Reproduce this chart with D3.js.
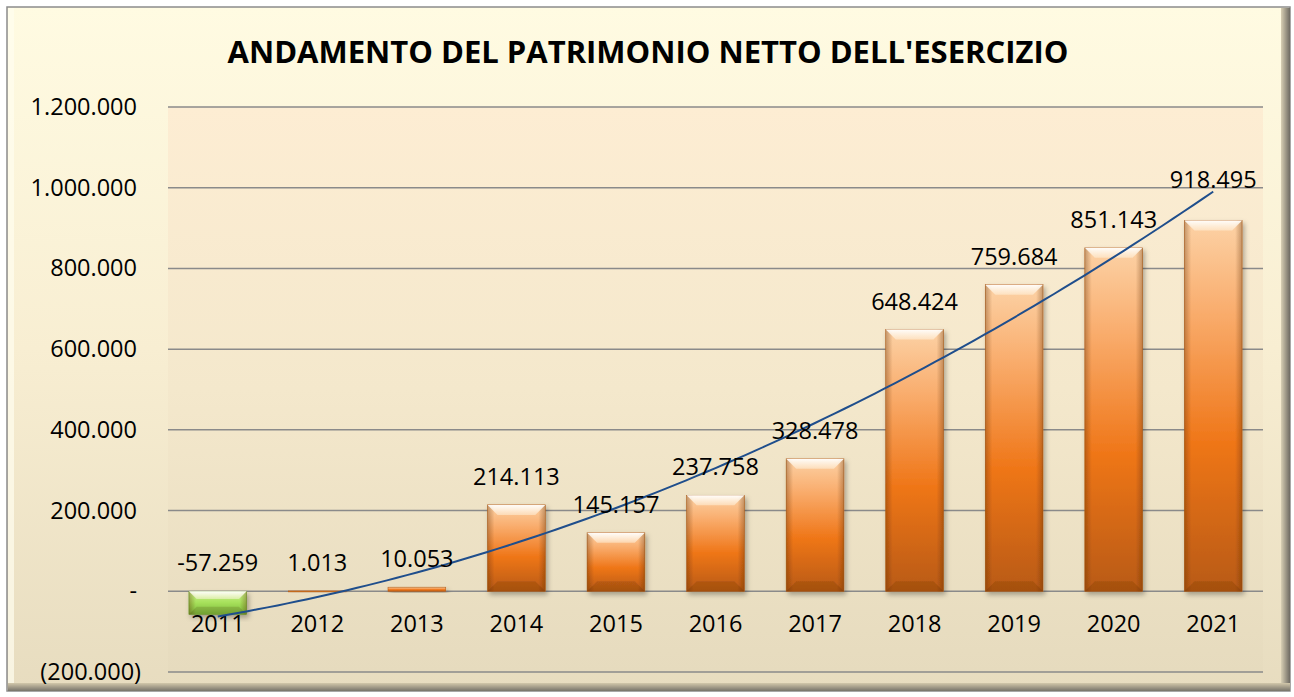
<!DOCTYPE html>
<html>
<head>
<meta charset="utf-8">
<script src="https://cdn.jsdelivr.net/npm/d3@7"></script>
<style>
  body { margin: 0; background: #fff; }
  svg { display: block; font-family: "Open Sans", "Liberation Sans", sans-serif; }
</style>
</head>
<body>
<svg width="1294" height="697"></svg>
<script>
const years = ["2011","2012","2013","2014","2015","2016","2017","2018","2019","2020","2021"];
const values = [-57259, 1013, 10053, 214113, 145157, 237758, 328478, 648424, 759684, 851143, 918495];
const yTicks = [-200000, 0, 200000, 400000, 600000, 800000, 1000000, 1200000];
const title = "ANDAMENTO DEL PATRIMONIO NETTO DELL'ESERCIZIO";

const svg = d3.select("svg");
const width = 1294, height = 697;
const plot = { left: 168, right: 1263, top: 107, bottom: 672 };

const fmt = v => {
    if (v === 0) return "-";
    const s = d3.format(",")(Math.abs(v)).replace(/,/g, ".");
    return v < 0 ? "(" + s + ")" : s;
};
const fmtLabel = v => (v < 0 ? "-" : "") + d3.format(",")(Math.abs(v)).replace(/,/g, ".");

const defs = svg.append("defs");

function linGrad(id, stops, x2 = 0, y2 = 1) {
    const g = defs.append("linearGradient").attr("id", id)
        .attr("x1", 0).attr("y1", 0).attr("x2", x2).attr("y2", y2);
    stops.forEach(([o, c, op]) => g.append("stop").attr("offset", o).attr("stop-color", c).attr("stop-opacity", op == null ? 1 : op));
}
linGrad("bgGrad", [[0, "#fffbe2"], [0.5, "#f8eed2"], [1, "#e7dcbf"]]);
linGrad("plotGrad", [[0, "#fdedd3"], [0.5, "#f4e8cc"], [1, "#e6dbbe"]]);
linGrad("barGrad", [[0, "#fcd2a6"], [0.25, "#f9ac6c"], [0.6, "#ef7618"], [1, "#b85a14"]]);
linGrad("greenGrad", [[0, "#cdf591"], [0.5, "#a6e05a"], [1, "#7ab83a"]]);
linGrad("sideGrad", [[0, "#5a2a00", 0.35], [0.12, "#5a2a00", 0], [0.88, "#5a2a00", 0], [1, "#5a2a00", 0.35]], 1, 0);
linGrad("topGrad", [[0, "#ffffff", 0.95], [1, "#fff4e0", 0.5]]);
linGrad("frameRight", [[0, "#d8cfb4"], [1, "#6e6a62"]], 1, 0);
linGrad("frameBottom", [[0, "#d2c7aa"], [1, "#77736a"]]);

const shadow = defs.append("filter").attr("id", "shadow")
    .attr("x", "-20%").attr("y", "-20%").attr("width", "150%").attr("height", "150%");
shadow.append("feDropShadow").attr("dx", 2).attr("dy", 3).attr("stdDeviation", 2.5)
    .attr("flood-color", "#000").attr("flood-opacity", 0.3);

// frame
svg.append("rect").attr("x", 0).attr("y", 0).attr("width", width).attr("height", height).attr("fill", "#ffffff");
svg.append("rect").attr("x", 7).attr("y", 7).attr("width", 1283).attr("height", 684)
    .attr("fill", "url(#bgGrad)").attr("stroke", "#8c8c8c").attr("stroke-width", 1.5);
svg.append("rect").attr("x", 1281).attr("y", 8).attr("width", 9).attr("height", 683).attr("fill", "url(#frameRight)");
svg.append("rect").attr("x", 8).attr("y", 683).attr("width", 1282).attr("height", 8).attr("fill", "url(#frameBottom)");
svg.append("rect").attr("x", 8).attr("y", 8).attr("width", 6).attr("height", 675).attr("fill", "#fffdf0").attr("opacity", 0.7);

// plot area
svg.append("rect").attr("x", plot.left).attr("y", plot.top)
    .attr("width", plot.right - plot.left).attr("height", plot.bottom - plot.top)
    .attr("fill", "url(#plotGrad)");

const x = d3.scaleBand().domain(years).range([plot.left, plot.right]).paddingInner(0.42).paddingOuter(0.21);
const y = d3.scaleLinear().domain([-200000, 1200000]).range([plot.bottom, plot.top]);

// gridlines
svg.append("g").selectAll("line").data(yTicks).enter().append("line")
    .attr("x1", plot.left).attr("x2", plot.right)
    .attr("y1", d => y(d)).attr("y2", d => y(d))
    .attr("stroke", "#8a8a8a").attr("stroke-width", 1.5);

// y axis labels
svg.append("g").selectAll("text").data(yTicks).enter().append("text")
    .attr("x", d => d < 0 ? 141 : 137).attr("y", d => y(d) + 8)
    .attr("text-anchor", "end").attr("font-size", 23.5).attr("fill", "#000")
    .text(fmt);

// bars
const bars = svg.append("g").selectAll("g").data(values).enter().append("g")
    .attr("filter", "url(#shadow)");
bars.each(function(v, i) {
    const g = d3.select(this);
    const bx = x(years[i]), bw = x.bandwidth();
    const y0 = y(Math.max(0, v)), y1 = y(Math.min(0, v));
    const h = Math.max(1, y1 - y0);
    g.append("rect").attr("x", bx).attr("y", y0).attr("width", bw).attr("height", h)
        .attr("fill", v < 0 ? "url(#greenGrad)" : "url(#barGrad)")
        .attr("stroke", v < 0 ? "#6c9e30" : "#b4601c").attr("stroke-width", 0.6);
    if (h > 6) {
        const b = Math.min(10, h / 3);
        g.append("rect").attr("x", bx).attr("y", y0).attr("width", bw).attr("height", h)
            .attr("fill", "url(#sideGrad)");
        g.append("path")
            .attr("d", `M${bx},${y0} L${bx + bw},${y0} L${bx + bw - b},${y0 + b} L${bx + b},${y0 + b} Z`)
            .attr("fill", "url(#topGrad)");
        g.append("path")
            .attr("d", `M${bx},${y1} L${bx + bw},${y1} L${bx + bw - b},${y1 - b} L${bx + b},${y1 - b} Z`)
            .attr("fill", "#3a1a00").attr("opacity", 0.15);
    }
});

// x labels
svg.append("g").selectAll("text").data(years).enter().append("text")
    .attr("x", d => x(d) + x.bandwidth() / 2).attr("y", y(0) + 41)
    .attr("text-anchor", "middle").attr("font-size", 23.5).attr("fill", "#000")
    .text(d => d);

// trendline: least-squares polynomial of order 2
const xs = values.map((_, i) => i + 1);
function polyFit(xv, yv) {
    const S = k => d3.sum(xv, xi => Math.pow(xi, k));
    const T = k => d3.sum(xv, (xi, j) => Math.pow(xi, k) * yv[j]);
    const A = [[S(0), S(1), S(2)], [S(1), S(2), S(3)], [S(2), S(3), S(4)]];
    const B = [T(0), T(1), T(2)];
    const det = m => m[0][0]*(m[1][1]*m[2][2]-m[1][2]*m[2][1]) - m[0][1]*(m[1][0]*m[2][2]-m[1][2]*m[2][0]) + m[0][2]*(m[1][0]*m[2][1]-m[1][1]*m[2][0]);
    const D = det(A);
    return [0, 1, 2].map(c => det(A.map((row, r) => row.map((val, k) => k === c ? B[r] : val))) / D);
}
const coef = polyFit(xs, values);
const trendPts = d3.range(1, 11.001, 0.1).map(t => [t, coef[0] + coef[1] * t + coef[2] * t * t]);
const xPos = t => x(years[0]) + x.bandwidth() / 2 + (t - 1) * x.step();
svg.append("path")
    .datum(trendPts)
    .attr("d", d3.line().x(d => xPos(d[0])).y(d => y(d[1])).curve(d3.curveMonotoneX))
    .attr("fill", "none").attr("stroke", "#1f4e8c").attr("stroke-width", 2);

// data labels (last one sits higher, above the trendline end)
svg.append("g").selectAll("text").data(values).enter().append("text")
    .attr("x", (d, i) => x(years[i]) + x.bandwidth() / 2)
    .attr("y", (d, i) => y(Math.max(0, d)) - (i === values.length - 1 ? 33 : 20))
    .attr("text-anchor", "middle").attr("font-size", 23.5).attr("fill", "#000")
    .text(fmtLabel);

// title
svg.append("text").attr("x", 648).attr("y", 63)
    .attr("text-anchor", "middle").attr("font-size", 31).attr("font-weight", "bold").attr("fill", "#000")
    .text(title);
</script>
</body>
</html>
